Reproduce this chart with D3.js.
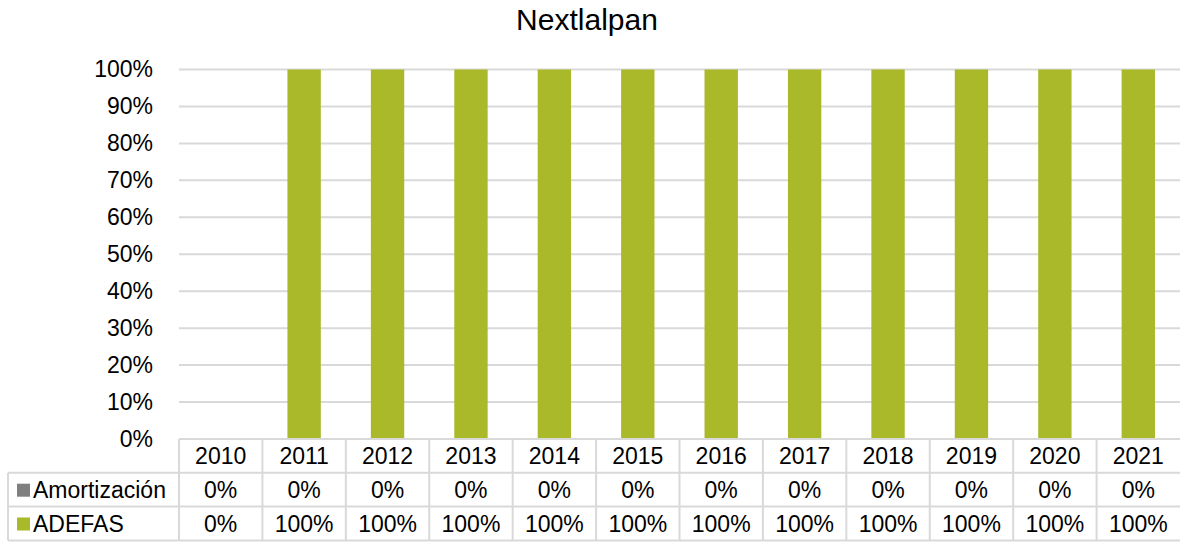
<!DOCTYPE html>
<html>
<head>
<meta charset="utf-8">
<script src="https://cdn.jsdelivr.net/npm/d3@7"></script>
<style>
  body { margin: 0; background: #fff; }
  svg { display: block; font-family: "Liberation Sans", Arial, sans-serif; }
</style>
</head>
<body>
<svg></svg>
<script>
var width = 1180;
var height = 542;

// data
var years = ["2010", "2011", "2012", "2013", "2014", "2015", "2016", "2017", "2018", "2019", "2020", "2021"];
var amortizacion = [0, 0, 0, 0, 0, 0, 0, 0, 0, 0, 0, 0];
var adefas = [0, 100, 100, 100, 100, 100, 100, 100, 100, 100, 100, 100];
var seriesNames = ["Amortización", "ADEFAS"];
var seriesColors = ["#7f7f7f", "#a9b92a"];
var yTicks = [0, 10, 20, 30, 40, 50, 60, 70, 80, 90, 100];

var plotLeft = 179, plotRight = 1180, plotTop = 69.5, plotBottom = 439;
var rowH = 33.8;
var gridColor = "#d9d9d9";
var fs = 23;

var svg = d3.select("svg")
    .attr("width", width)
    .attr("height", height);

var x = d3.scaleBand()
    .domain(years)
    .range([plotLeft, plotRight])
    .paddingInner(0.6)
    .paddingOuter(0.3);

var xCol = d3.scaleBand()
    .domain(years)
    .range([plotLeft, plotRight]);

var y = d3.scaleLinear()
    .domain([0, 100])
    .range([plotBottom, plotTop]);

// title
svg.append("text")
    .attr("x", 587)
    .attr("y", 30)
    .attr("text-anchor", "middle")
    .attr("font-size", 30)
    .attr("fill", "#000")
    .text("Nextlalpan");

// gridlines
svg.append("g")
    .selectAll("line")
    .data(yTicks)
    .join("line")
    .attr("x1", plotLeft)
    .attr("x2", plotRight)
    .attr("y1", d => y(d))
    .attr("y2", d => y(d))
    .attr("stroke", gridColor)
    .attr("stroke-width", 2);

// y axis labels
var yAxis = svg.append("g")
    .attr("transform", "translate(" + (plotLeft - 23) + ",0)")
    .call(d3.axisLeft(y).tickValues(yTicks).tickSize(0).tickFormat(d => d + "%"));
yAxis.select(".domain").remove();
yAxis.selectAll("text")
    .attr("font-family", "Liberation Sans, Arial, sans-serif")
    .attr("font-size", fs)
    .attr("fill", "#000")
    .attr("dx", 0);

// stacked bars
var stacked = d3.stack().keys([0, 1])(years.map((yr, i) => ({0: amortizacion[i], 1: adefas[i]})));
svg.append("g")
    .selectAll("g")
    .data(stacked)
    .join("g")
    .attr("fill", (d, i) => seriesColors[i])
    .selectAll("rect")
    .data(d => d)
    .join("rect")
    .attr("x", (d, i) => x(years[i]))
    .attr("width", x.bandwidth())
    .attr("y", d => y(d[1]))
    .attr("height", d => y(d[0]) - y(d[1]));

// data table
var table = svg.append("g");
var rowsY = [plotBottom, plotBottom + rowH, plotBottom + 2 * rowH, plotBottom + 3 * rowH];
var legendLeft = 8;

// horizontal lines
table.append("line")
    .attr("x1", plotLeft).attr("x2", plotRight)
    .attr("y1", rowsY[0]).attr("y2", rowsY[0])
    .attr("stroke", gridColor).attr("stroke-width", 2);
table.selectAll("line.h")
    .data(rowsY.slice(1))
    .join("line")
    .attr("class", "h")
    .attr("x1", legendLeft).attr("x2", plotRight)
    .attr("y1", d => d).attr("y2", d => d)
    .attr("stroke", gridColor).attr("stroke-width", 2);

// vertical lines
table.selectAll("line.v")
    .data(years)
    .join("line")
    .attr("class", "v")
    .attr("x1", d => xCol(d))
    .attr("x2", d => xCol(d))
    .attr("y1", rowsY[0]).attr("y2", rowsY[3])
    .attr("stroke", gridColor).attr("stroke-width", 2);
table.append("line")
    .attr("x1", legendLeft).attr("x2", legendLeft)
    .attr("y1", rowsY[1]).attr("y2", rowsY[3])
    .attr("stroke", gridColor).attr("stroke-width", 2);

// header text
table.selectAll("text.yr")
    .data(years)
    .join("text")
    .attr("class", "yr")
    .attr("x", d => xCol(d) + xCol.bandwidth() / 2)
    .attr("y", rowsY[0] + rowH / 2 + 8)
    .attr("text-anchor", "middle")
    .attr("font-size", fs)
    .text(d => d);

// value rows
var tableSeries = [amortizacion, adefas];
tableSeries.forEach(function (vals, r) {
    var rowTop = rowsY[r + 1];
    table.append("rect")
        .attr("x", 17)
        .attr("y", rowTop + rowH / 2 - 6)
        .attr("width", 13)
        .attr("height", 13)
        .attr("fill", seriesColors[r]);
    table.append("text")
        .attr("x", 33)
        .attr("y", rowTop + rowH / 2 + 8)
        .attr("font-size", fs)
        .text(seriesNames[r]);
    table.selectAll("text.v" + r)
        .data(vals)
        .join("text")
        .attr("class", "v" + r)
        .attr("x", (d, i) => xCol(years[i]) + xCol.bandwidth() / 2)
        .attr("y", rowTop + rowH / 2 + 8)
        .attr("text-anchor", "middle")
        .attr("font-size", fs)
        .text(d => d + "%");
});
</script>
</body>
</html>
